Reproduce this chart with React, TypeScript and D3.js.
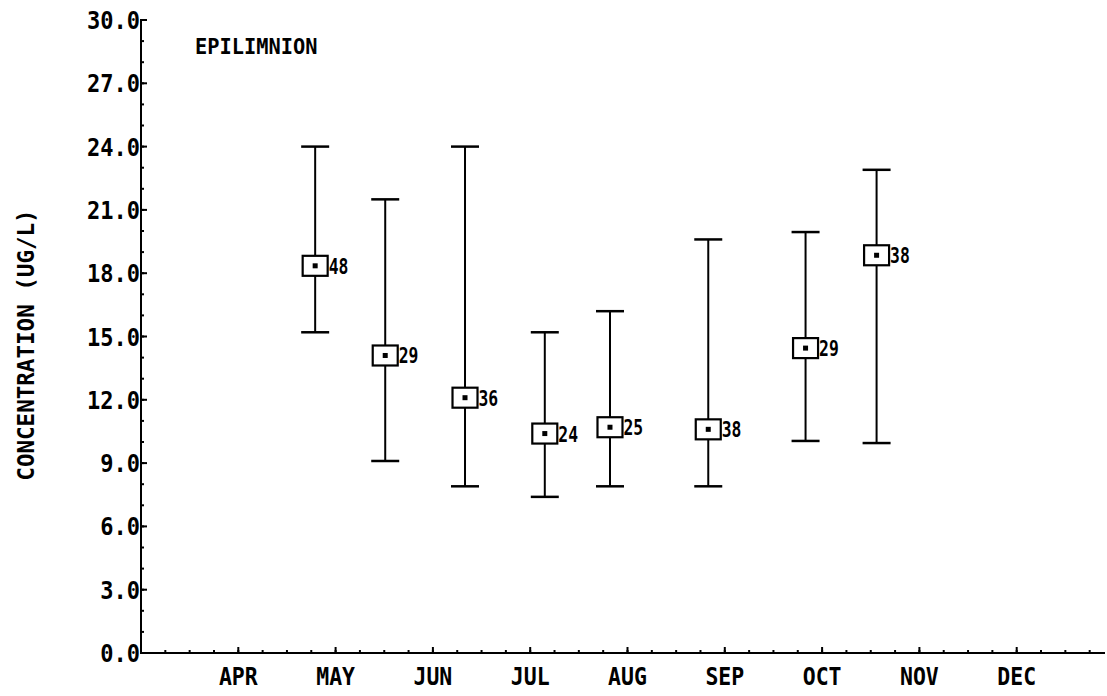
import React from "react";
import * as d3 from "d3";

const monthLabels = ["APR", "MAY", "JUN", "JUL", "AUG", "SEP", "OCT", "NOV", "DEC"];
const monthPositions = [1, 2, 3, 4, 5, 6, 7, 8, 9];
const yTicks = [0, 3, 6, 9, 12, 15, 18, 21, 24, 27, 30];
const yTickLabels = ["0.0", "3.0", "6.0", "9.0", "12.0", "15.0", "18.0", "21.0", "24.0", "27.0", "30.0"];

// sample time (months after March 1), mean, min, max, count
const sampleTimes = [1.79, 2.51, 3.33, 4.15, 4.82, 5.83, 6.83, 7.56];
const meanValues = [18.35, 14.1, 12.1, 10.4, 10.7, 10.6, 14.45, 18.85];
const minValues = [15.2, 9.1, 7.9, 7.4, 7.9, 7.9, 10.05, 9.95];
const maxValues = [24.0, 21.5, 24.0, 15.2, 16.2, 19.6, 19.95, 22.9];
const counts = ["48", "29", "36", "24", "25", "38", "29", "38"];

const W = 1107;
const H = 696;
const FONT = "'DejaVu Sans Mono', monospace";

function T({ x, y, size, anchor = "start", sx = 0.8, rotate = 0, children }: any) {
  return (
    <g transform={`translate(${x},${y}) rotate(${rotate}) scale(${sx},1)`}>
      <text
        x={0}
        y={0}
        fontFamily={FONT}
        fontWeight="bold"
        fontSize={size}
        textAnchor={anchor}
        fill="#000"
      >
        {children}
      </text>
    </g>
  );
}

export default function App() {
  const x = d3.scaleLinear().domain([0, 10]).range([141, 141 + 973]);
  const y = d3.scaleLinear().domain([0, 30]).range([653, 20]);
  const xEnd = 1105;

  const xMinor = d3.range(0, 40).map((i) => i * 0.25).filter((v) => x(v) <= xEnd && v > 0);
  const yMinor = d3.range(0, 31);

  const boxW = 25;
  const boxH = 20;
  const capHalf = 14;

  return (
    <svg
      width={W}
      height={H}
      style={{ position: "absolute", left: 0, top: 0, background: "#fff" }}
    >
      <rect x={0} y={0} width={W} height={H} fill="#fff" />
      {/* Y axis */}
      <line x1={x(0)} x2={x(0)} y1={y(30)} y2={y(0)} stroke="#000" strokeWidth={2} />
      {yMinor.map((v) => (
        <line key={"ym" + v} x1={x(0) - 1} x2={x(0) + 3} y1={y(v)} y2={y(v)} stroke="#000" strokeWidth={2} />
      ))}
      {yTicks.map((v, i) => (
        <g key={"yt" + v}>
          <line x1={x(0)} x2={x(0) + 6} y1={y(v)} y2={y(v)} stroke="#000" strokeWidth={2} />
          <T x={x(0) - 1} y={y(v) + 9} size={25} anchor="end" sx={0.88}>
            {yTickLabels[i]}
          </T>
        </g>
      ))}
      {/* X axis */}
      <line x1={x(0)} x2={xEnd} y1={y(0)} y2={y(0)} stroke="#000" strokeWidth={2} />
      {xMinor.map((v) => (
        <line key={"xm" + v} x1={x(v)} x2={x(v)} y1={y(0)} y2={y(0) - 3} stroke="#000" strokeWidth={2} />
      ))}
      {monthPositions.map((m, i) => (
        <g key={"mt" + m}>
          <line x1={x(m)} x2={x(m)} y1={y(0)} y2={y(0) - 6} stroke="#000" strokeWidth={2} />
          <T x={x(m)} y={y(0) + 32} size={25} anchor="middle" sx={0.86}>
            {monthLabels[i]}
          </T>
        </g>
      ))}
      {/* axis title */}
      <T x={34} y={345} size={23} anchor="middle" rotate={-90} sx={0.98}>
        CONCENTRATION (UG/L)
      </T>
      <T x={195} y={54} size={21} anchor="start" sx={0.97}>
        EPILIMNION
      </T>
      {/* data */}
      {sampleTimes.map((t, i) => {
        const cx = x(t);
        const cy = y(meanValues[i]);
        return (
          <g key={"d" + i}>
            <line x1={cx} x2={cx} y1={y(maxValues[i])} y2={y(minValues[i])} stroke="#000" strokeWidth={2} />
            <line x1={cx - capHalf} x2={cx + capHalf} y1={y(maxValues[i])} y2={y(maxValues[i])} stroke="#000" strokeWidth={2.5} />
            <line x1={cx - capHalf} x2={cx + capHalf} y1={y(minValues[i])} y2={y(minValues[i])} stroke="#000" strokeWidth={2.5} />
            <rect x={cx - boxW / 2} y={cy - boxH / 2} width={boxW} height={boxH} fill="#fff" stroke="#000" strokeWidth={2.2} />
            <rect x={cx - 2.5} y={cy - 2.5} width={5} height={5} fill="#000" />
            <T x={cx + boxW / 2 + 1} y={cy + 8} size={21} anchor="start" sx={0.78}>
              {counts[i]}
            </T>
          </g>
        );
      })}
    </svg>
  );
}
